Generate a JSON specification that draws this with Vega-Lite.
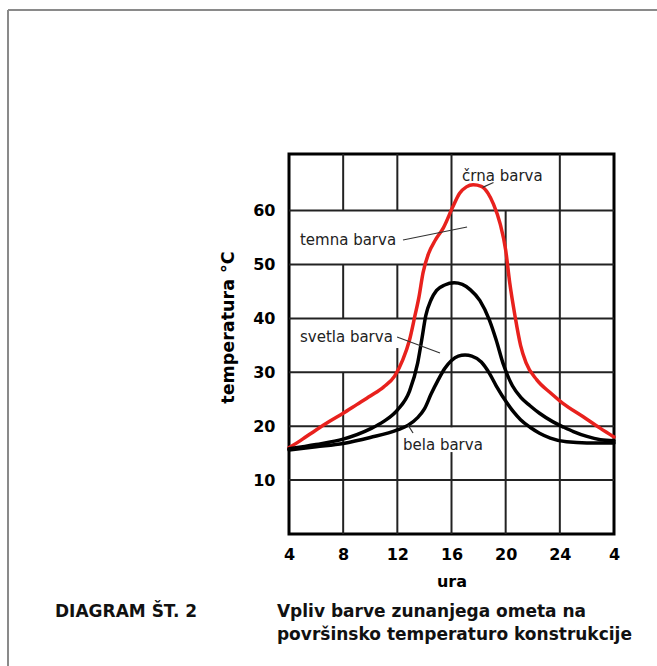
{
  "$schema": "https://vega.github.io/schema/vega-lite/v6.json",
  "width": 325,
  "height": 380,
  "autosize": {"type": "none"},
  "padding": {"left": 289, "top": 154, "right": 43, "bottom": 132},
  "background": "white",
  "config": {
    "font": "DejaVu Sans",
    "view": {"stroke": "#000", "strokeWidth": 3}
  },
  "datasets": {
    "frame": [
      {"x": -16.75, "y": 97.21, "x2": 31.3, "y2": 97.21},
      {"x": -16.75, "y": 97.21, "x2": -16.75, "y2": -24.6}
    ],
    "grid": [
      {"x": 4, "y": 10, "x2": 28, "y2": 10},
      {"x": 4, "y": 20, "x2": 28, "y2": 20},
      {"x": 4, "y": 30, "x2": 28, "y2": 30},
      {"x": 4, "y": 40, "x2": 28, "y2": 40},
      {"x": 4, "y": 50, "x2": 28, "y2": 50},
      {"x": 4, "y": 60, "x2": 28, "y2": 60},
      {"x": 8, "y": 0, "x2": 8, "y2": 30},
      {"x": 8, "y": 40, "x2": 8, "y2": 50},
      {"x": 8, "y": 60, "x2": 8, "y2": 70.5},
      {"x": 12, "y": 0, "x2": 12, "y2": 34.5},
      {"x": 12, "y": 40, "x2": 12, "y2": 50},
      {"x": 12, "y": 60, "x2": 12, "y2": 70.5},
      {"x": 16, "y": 0, "x2": 16, "y2": 15.2},
      {"x": 16, "y": 19.8, "x2": 16, "y2": 70.5},
      {"x": 20, "y": 0, "x2": 20, "y2": 60},
      {"x": 24, "y": 0, "x2": 24, "y2": 70.5}
    ],
    "curves": [
      {"series": "črna barva", "x": 4, "y": 16.0},
      {"series": "črna barva", "x": 5, "y": 17.6},
      {"series": "črna barva", "x": 6, "y": 19.3},
      {"series": "črna barva", "x": 7, "y": 20.9},
      {"series": "črna barva", "x": 8, "y": 22.4},
      {"series": "črna barva", "x": 9, "y": 24.0},
      {"series": "črna barva", "x": 10, "y": 25.6},
      {"series": "črna barva", "x": 11, "y": 27.3},
      {"series": "črna barva", "x": 11.8, "y": 29.3},
      {"series": "črna barva", "x": 12.4, "y": 32.3},
      {"series": "črna barva", "x": 12.9, "y": 36.0},
      {"series": "črna barva", "x": 13.3, "y": 40.5},
      {"series": "črna barva", "x": 13.6, "y": 44.0},
      {"series": "črna barva", "x": 13.9, "y": 48.5},
      {"series": "črna barva", "x": 14.3, "y": 52.0},
      {"series": "črna barva", "x": 14.8, "y": 54.5},
      {"series": "črna barva", "x": 15.4, "y": 56.8},
      {"series": "črna barva", "x": 16.1, "y": 60.7},
      {"series": "črna barva", "x": 16.6, "y": 63.2},
      {"series": "črna barva", "x": 17.1, "y": 64.4},
      {"series": "črna barva", "x": 17.6, "y": 64.8},
      {"series": "črna barva", "x": 18.2, "y": 64.5},
      {"series": "črna barva", "x": 18.7, "y": 63.2},
      {"series": "črna barva", "x": 19.1, "y": 61.2},
      {"series": "črna barva", "x": 19.6, "y": 57.5},
      {"series": "črna barva", "x": 20.0, "y": 52.7},
      {"series": "črna barva", "x": 20.3, "y": 46.6},
      {"series": "črna barva", "x": 20.7, "y": 40.3},
      {"series": "črna barva", "x": 21.1, "y": 35.0},
      {"series": "črna barva", "x": 21.5, "y": 31.8},
      {"series": "črna barva", "x": 22.3, "y": 28.6},
      {"series": "črna barva", "x": 23.3, "y": 26.2},
      {"series": "črna barva", "x": 24.2, "y": 24.3},
      {"series": "črna barva", "x": 25.7, "y": 21.8},
      {"series": "črna barva", "x": 27, "y": 19.6},
      {"series": "črna barva", "x": 28, "y": 18.0},
      {"series": "svetla barva", "x": 4, "y": 15.8},
      {"series": "svetla barva", "x": 6, "y": 16.6},
      {"series": "svetla barva", "x": 8, "y": 17.6},
      {"series": "svetla barva", "x": 10, "y": 19.5},
      {"series": "svetla barva", "x": 11, "y": 20.9},
      {"series": "svetla barva", "x": 12, "y": 23.0},
      {"series": "svetla barva", "x": 12.9, "y": 26.5},
      {"series": "svetla barva", "x": 13.5, "y": 31.7},
      {"series": "svetla barva", "x": 13.8, "y": 36.0},
      {"series": "svetla barva", "x": 14.1, "y": 40.5},
      {"series": "svetla barva", "x": 14.5, "y": 43.5},
      {"series": "svetla barva", "x": 14.9, "y": 45.2},
      {"series": "svetla barva", "x": 15.5, "y": 46.2},
      {"series": "svetla barva", "x": 16.2, "y": 46.6},
      {"series": "svetla barva", "x": 16.8, "y": 46.3},
      {"series": "svetla barva", "x": 17.4, "y": 45.3},
      {"series": "svetla barva", "x": 18.1, "y": 43.3},
      {"series": "svetla barva", "x": 18.8, "y": 39.7},
      {"series": "svetla barva", "x": 19.3, "y": 36.0},
      {"series": "svetla barva", "x": 19.8, "y": 31.7},
      {"series": "svetla barva", "x": 20.5, "y": 27.5},
      {"series": "svetla barva", "x": 21.1, "y": 25.4},
      {"series": "svetla barva", "x": 21.8, "y": 23.8},
      {"series": "svetla barva", "x": 22.5, "y": 22.4},
      {"series": "svetla barva", "x": 23.5, "y": 20.8},
      {"series": "svetla barva", "x": 24.3, "y": 19.8},
      {"series": "svetla barva", "x": 25, "y": 19.0},
      {"series": "svetla barva", "x": 26, "y": 18.1},
      {"series": "svetla barva", "x": 27, "y": 17.5},
      {"series": "svetla barva", "x": 28, "y": 17.3},
      {"series": "bela barva", "x": 4, "y": 15.6},
      {"series": "bela barva", "x": 6, "y": 16.2},
      {"series": "bela barva", "x": 8, "y": 16.8},
      {"series": "bela barva", "x": 10, "y": 17.9},
      {"series": "bela barva", "x": 12, "y": 19.3},
      {"series": "bela barva", "x": 12.8, "y": 20.2},
      {"series": "bela barva", "x": 13.5, "y": 21.6},
      {"series": "bela barva", "x": 14, "y": 23.2},
      {"series": "bela barva", "x": 14.5, "y": 26.0},
      {"series": "bela barva", "x": 15, "y": 28.5},
      {"series": "bela barva", "x": 15.5, "y": 30.7},
      {"series": "bela barva", "x": 16, "y": 32.2},
      {"series": "bela barva", "x": 16.5, "y": 33.0},
      {"series": "bela barva", "x": 17, "y": 33.2},
      {"series": "bela barva", "x": 17.5, "y": 33.0},
      {"series": "bela barva", "x": 18.2, "y": 31.9},
      {"series": "bela barva", "x": 18.8, "y": 29.8},
      {"series": "bela barva", "x": 19.3, "y": 27.5},
      {"series": "bela barva", "x": 20.1, "y": 24.3},
      {"series": "bela barva", "x": 20.6, "y": 22.6},
      {"series": "bela barva", "x": 21.1, "y": 21.2},
      {"series": "bela barva", "x": 21.8, "y": 19.8},
      {"series": "bela barva", "x": 22.5, "y": 18.7},
      {"series": "bela barva", "x": 23.3, "y": 17.8},
      {"series": "bela barva", "x": 24.5, "y": 17.1},
      {"series": "bela barva", "x": 26, "y": 16.9},
      {"series": "bela barva", "x": 28, "y": 16.9}
    ],
    "leaders": [
      {"x": 12.42, "y": 54.55, "x2": 17.15, "y2": 56.96},
      {"x": 11.98, "y": 36.55, "x2": 15.15, "y2": 33.58},
      {"x": 18.3, "y": 64.3, "x2": 19.1, "y2": 65.2},
      {"x": 12.79, "y": 20.2, "x2": 13.16, "y2": 18.74}
    ],
    "curveLabels": [
      {"x": 16.78, "y": 66.4, "label": "črna barva"},
      {"x": 4.81, "y": 54.55, "label": "temna barva"},
      {"x": 4.81, "y": 36.55, "label": "svetla barva"},
      {"x": 12.42, "y": 16.51, "label": "bela barva"}
    ],
    "captions": [
      {"x": -13.28, "y": -14.47, "label": "DIAGRAM ŠT. 2"},
      {"x": 3.11, "y": -14.47, "label": "Vpliv barve zunanjega ometa na"},
      {"x": 3.11, "y": -18.74, "label": "površinsko temperaturo konstrukcije"}
    ]
  },
  "encoding": {
    "x": {
      "field": "x",
      "type": "quantitative",
      "scale": {"domain": [4, 28], "nice": false, "zero": false},
      "axis": {
        "values": [4, 8, 12, 16, 20, 24, 28],
        "labelExpr": "datum.value == 28 ? '4' : datum.label",
        "grid": false,
        "ticks": false,
        "tickSize": 0,
        "domain": false,
        "labelFont": "DejaVu Sans",
        "labelFontWeight": "bold",
        "labelFontSize": 16,
        "labelColor": "#000",
        "labelPadding": 12,
        "labelFlush": false,
        "title": "ura",
        "titleFont": "DejaVu Sans",
        "titleFontWeight": "bold",
        "titleFontSize": 16,
        "titleColor": "#000",
        "titleBaseline": "alphabetic",
        "titleY": 52
      }
    },
    "y": {
      "field": "y",
      "type": "quantitative",
      "scale": {"domain": [0, 70.5], "nice": false, "zero": false},
      "axis": {
        "values": [10, 20, 30, 40, 50, 60],
        "grid": false,
        "ticks": false,
        "tickSize": 0,
        "domain": false,
        "labelFont": "DejaVu Sans",
        "labelFontWeight": "bold",
        "labelFontSize": 16,
        "labelColor": "#000",
        "labelPadding": 14,
        "title": "temperatura °C",
        "titleFont": "DejaVu Sans",
        "titleFontWeight": "bold",
        "titleFontSize": 17.5,
        "titleColor": "#000",
        "titleAngle": -90,
        "titleBaseline": "middle",
        "titleAlign": "center",
        "titleX": -61,
        "titleY": 173
      }
    }
  },
  "layer": [
    {
      "data": {"name": "frame"},
      "mark": {"type": "rule", "color": "#8a8a8a", "strokeWidth": 2, "clip": false},
      "encoding": {"x2": {"field": "x2"}, "y2": {"field": "y2"}}
    },
    {
      "data": {"name": "grid"},
      "mark": {"type": "rule", "color": "#222", "strokeWidth": 2},
      "encoding": {"x2": {"field": "x2"}, "y2": {"field": "y2"}}
    },
    {
      "data": {"name": "curves"},
      "mark": {"type": "line", "interpolate": "monotone", "strokeWidth": 3.5, "strokeCap": "round", "strokeJoin": "round"},
      "encoding": {
        "color": {
          "field": "series",
          "type": "nominal",
          "scale": {"domain": ["črna barva", "svetla barva", "bela barva"], "range": ["#e8211d", "#000000", "#000000"]},
          "legend": null
        },
        "order": {"field": "x", "type": "quantitative"}
      }
    },
    {
      "data": {"name": "leaders"},
      "mark": {"type": "rule", "color": "#333", "strokeWidth": 1.2},
      "encoding": {"x2": {"field": "x2"}, "y2": {"field": "y2"}}
    },
    {
      "data": {"name": "curveLabels"},
      "mark": {"type": "text", "align": "left", "baseline": "middle", "font": "DejaVu Sans", "fontSize": 15, "color": "#222"},
      "encoding": {"text": {"field": "label"}}
    },
    {
      "data": {"name": "captions"},
      "mark": {"type": "text", "align": "left", "baseline": "middle", "font": "DejaVu Sans", "fontSize": 17, "fontWeight": "bold", "color": "#111", "clip": false},
      "encoding": {"text": {"field": "label"}}
    }
  ]
}
